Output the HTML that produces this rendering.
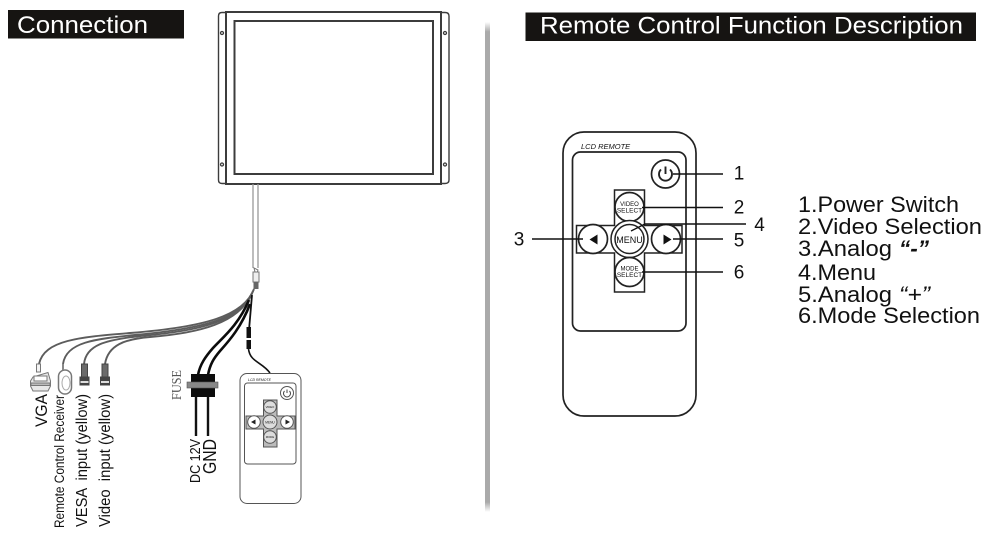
<!DOCTYPE html>
<html><head><meta charset="utf-8"><style>
html,body{margin:0;padding:0;background:#fff;width:1000px;height:536px;overflow:hidden}
svg{display:block}
text{font-family:"Liberation Sans",sans-serif;fill:#111}
</style></head><body>
<svg width="1000" height="536" viewBox="0 0 1000 536" xmlns="http://www.w3.org/2000/svg">
<rect width="1000" height="536" fill="#fff"/>
<!-- headers -->
<rect x="8" y="10" width="176" height="28.500" fill="#161412"/>
<text x="17" y="33" font-size="24" textLength="131" lengthAdjust="spacingAndGlyphs" style="fill:#fff">Connection</text>
<rect x="525.500" y="12.500" width="450.500" height="28.500" fill="#161412"/>
<text x="540" y="33.500" font-size="24" textLength="423" lengthAdjust="spacingAndGlyphs" style="fill:#fff">Remote Control Function Description</text>
<!-- divider -->
<defs><linearGradient id="d" x1="0" y1="0" x2="0" y2="1"><stop offset="0" stop-color="#fff"/><stop offset=".02" stop-color="#aaa"/><stop offset=".98" stop-color="#aaa"/><stop offset="1" stop-color="#fff"/></linearGradient></defs>
<rect x="485" y="22" width="5" height="490" fill="url(#d)"/>
<!-- monitor -->
<g fill="none" stroke="#3c3c3c">
<path d="M226 12.500H222Q218.500 12.500 218.500 16V180Q218.500 183.500 222 183.500H226" stroke-width="1.400"/>
<path d="M441 12.500H445Q449 12.500 449 16V180Q449 183.500 445 183.500H441" stroke-width="1.400"/>
<rect x="226" y="12" width="215" height="172" stroke-width="2"/>
<rect x="234.500" y="21" width="198.500" height="153" stroke-width="2"/>
<circle cx="222" cy="33" r="1.500" stroke-width="1.300"/><circle cx="445" cy="33" r="1.500" stroke-width="1.300"/><circle cx="222" cy="164.500" r="1.500" stroke-width="1.300"/><circle cx="445" cy="164.500" r="1.500" stroke-width="1.300"/>
</g>
<!-- tube -->
<path d="M253 184V268M258 184V268" stroke="#999" stroke-width="1.300" fill="none"/>
<path d="M254 268L258 270L256 276Z" fill="none" stroke="#777"/>
<rect x="253" y="272" width="6" height="10" fill="#eee" stroke="#777"/>
<rect x="253.500" y="282" width="5" height="7" fill="#666"/>
<!-- gray cables -->
<g fill="none" stroke="#5c5c5c" stroke-width="1.900">
<path d="M254 289C244 316 205 327 130 333C80 337 44 340 39 364"/>
<path d="M253 291C244 319 200 329 135 335C95 339 66 342 63 364"/>
<path d="M252 293C240 321 200 331 140 336C105 340 86 345 84 364"/>
<path d="M251 295C238 323 200 333 150 337C125 339 108 345 105 364"/>
</g>
<!-- black cables -->
<g fill="none" stroke="#0c0c0c" stroke-width="2.600">
<path d="M249 300C238 326 222 338 213 348C206 356 200 364 198 375"/>
<path d="M250 304C241 328 228 342 220 351C214 358 210 364 208 375"/>
</g>
<path d="M252 295L249 330" stroke="#111" stroke-width="1.800" fill="none"/>
<rect x="246.500" y="327" width="4.500" height="11" fill="#111"/>
<rect x="246.500" y="340" width="4.500" height="9" fill="#111"/>
<path d="M248.500 349C250 362 262 362 270 373" stroke="#111" stroke-width="1.600" fill="none"/>
<!-- VGA -->
<rect x="36.500" y="364" width="4" height="8" fill="#f4f4f4" stroke="#777"/>
<g fill="#e8e8e8" stroke="#777">
<path d="M33 377L48 372.500L50.500 381V386L48 391H33L30.500 386V381Z"/>
<rect x="34" y="376" width="13" height="5" fill="#fff"/>
<rect x="31" y="383" width="19" height="2.500" fill="#bbb"/>
</g>
<!-- receiver -->
<rect x="58.500" y="370" width="13" height="24" rx="6.500" fill="#fff" stroke="#777" stroke-width="1.500"/>
<ellipse cx="66" cy="383" rx="4" ry="7" fill="#fff" stroke="#aaa"/>
<path d="M63 364V370" stroke="#888" stroke-width="2"/>
<!-- RCA -->
<g stroke="#444" fill="#6a6a6a">
<rect x="81.500" y="364" width="6" height="13"/><rect x="80" y="377" width="9" height="8" fill="#444"/><rect x="80.500" y="381" width="8" height="2" fill="#ddd" stroke="none"/>
<rect x="102" y="364" width="6" height="13"/><rect x="100.500" y="377" width="9" height="8" fill="#444"/><rect x="101" y="381" width="8" height="2" fill="#ddd" stroke="none"/>
</g>
<!-- fuse -->
<rect x="191" y="374" width="24" height="23" fill="#0c0c0c"/>
<rect x="187" y="382" width="31" height="6" fill="#888" stroke="#555" stroke-width=".6"/>
<path d="M196 397V436M208 397V436" stroke="#111" stroke-width="2.400"/>
<!-- left labels -->
<text transform="translate(47,427) rotate(-90)" font-size="16.500" textLength="33" lengthAdjust="spacingAndGlyphs">VGA</text>
<text transform="translate(64,528) rotate(-90)" font-size="13.500" textLength="133" lengthAdjust="spacingAndGlyphs">Remote Control Receiver</text>
<text transform="translate(87,527) rotate(-90)" font-size="15.500" xml:space="preserve" textLength="133" lengthAdjust="spacingAndGlyphs">VESA  input (yellow)</text>
<text transform="translate(110,527) rotate(-90)" font-size="15.500" xml:space="preserve" textLength="133" lengthAdjust="spacingAndGlyphs">Video  input (yellow)</text>
<text transform="translate(200,483) rotate(-90)" font-size="14.500" textLength="44" lengthAdjust="spacingAndGlyphs">DC 12V</text>
<text transform="translate(216,474) rotate(-90)" font-size="18" textLength="35" lengthAdjust="spacingAndGlyphs">GND</text>
<text transform="translate(181,400) rotate(-90)" font-size="14" textLength="30" lengthAdjust="spacingAndGlyphs" style="font-family:'Liberation Serif',serif;fill:#555">FUSE</text>
<!-- small remote -->
<g fill="#fff" stroke="#555" stroke-width="1">
<rect x="240" y="373.500" width="61" height="130" rx="7"/>
<rect x="244.500" y="383" width="51.500" height="81" rx="3"/>
<circle cx="287" cy="393" r="6.500"/>
<path d="M263.500 400H277V416H295V429H277V447H263.500V429H246V416H263.500Z" fill="#bbb"/>
<circle cx="270" cy="407" r="6.300" fill="#ddd"/><circle cx="270" cy="422" r="7" fill="#ddd"/><circle cx="254" cy="422" r="6.300"/><circle cx="287" cy="422" r="6.300"/><circle cx="270" cy="437" r="6.300" fill="#ddd"/>
</g>
<path d="M287 389.500V393M284.500 391A3.500 3.500 0 1 0 289.500 391" fill="none" stroke="#444"/>
<path d="M251 422L255.500 419.500V424.500ZM290 422L285.500 419.500V424.500Z" fill="#222"/>
<text x="248" y="381" font-size="3.500" font-style="italic">LCD REMOTE</text>
<text x="270" y="408" font-size="2.800" text-anchor="middle">VIDEO</text><text x="270" y="423.500" font-size="3.200" text-anchor="middle">MENU</text><text x="270" y="438" font-size="2.800" text-anchor="middle">MODE</text>
<!-- big remote -->
<g fill="#fff" stroke="#222">
<rect x="563" y="132" width="133" height="284" rx="21" stroke-width="1.700"/>
<rect x="572.500" y="152" width="113.500" height="179" rx="8" stroke-width="1.700"/>
<path d="M614.500 190H644.500V225.500H682V253H644.500V292H614.500V253H576.500V225.500H614.500Z" fill="#fff" stroke-width="1.500"/>
<circle cx="665.500" cy="174" r="14" stroke-width="1.700"/>
<circle cx="629.500" cy="207" r="14.500" stroke-width="1.700"/>
<circle cx="629.500" cy="239" r="18.500" stroke-width="1.500"/>
<circle cx="629.500" cy="239" r="14.500" stroke-width="1.500"/>
<circle cx="593" cy="239" r="14.500" stroke-width="1.700"/>
<circle cx="666" cy="239" r="14.500" stroke-width="1.700"/>
<circle cx="629.500" cy="272" r="14.500" stroke-width="1.700"/>
</g>
<path d="M665.500 166.500V174M661 169.500A6.500 6.500 0 1 0 670 169.500" fill="none" stroke="#222" stroke-width="1.900"/>
<path d="M589.500 239.500L597.500 234.500V244.500ZM671.500 239.500L663.500 234.500V244.500Z" fill="#111"/>
<text x="581" y="149" font-size="7.500" font-style="italic">LCD REMOTE</text>
<text x="629.500" y="206" font-size="6" text-anchor="middle">VIDEO</text><text x="629.500" y="212.500" font-size="6.500" text-anchor="middle">SELECT</text>
<text x="629.500" y="243" font-size="9" text-anchor="middle">MENU</text>
<text x="629.500" y="270.500" font-size="6" text-anchor="middle">MODE</text><text x="629.500" y="277" font-size="6.500" text-anchor="middle">SELECT</text>
<!-- leaders -->
<g fill="none" stroke="#111" stroke-width="1.400">
<path d="M673 174H723M642 207.500H723M532 239H583M673 239H723M642 272H723M631 231L645 224H746"/>
</g>
<g font-size="19" text-anchor="middle">
<text x="739" y="179.500">1</text><text x="739" y="213.500">2</text><text x="519" y="245.500">3</text><text x="759.500" y="231">4</text><text x="739" y="246.500">5</text><text x="739" y="278.500">6</text>
</g>
<!-- legend -->
<g font-size="22">
<text x="798" y="212" textLength="161" lengthAdjust="spacingAndGlyphs">1.Power Switch</text>
<text x="798" y="234" textLength="184" lengthAdjust="spacingAndGlyphs">2.Video Selection</text>
<text x="798" y="256" textLength="94" lengthAdjust="spacingAndGlyphs">3.Analog</text>
<text x="899" y="256" textLength="30" lengthAdjust="spacingAndGlyphs" font-style="italic" font-weight="bold">“-”</text>
<text x="798" y="280" textLength="78" lengthAdjust="spacingAndGlyphs">4.Menu</text>
<text x="798" y="302" textLength="94" lengthAdjust="spacingAndGlyphs">5.Analog</text>
<text x="899" y="302" textLength="31" lengthAdjust="spacingAndGlyphs" font-style="italic">“+”</text>
<text x="798" y="323" textLength="182" lengthAdjust="spacingAndGlyphs">6.Mode Selection</text>
</g>
</svg>
</body></html>
